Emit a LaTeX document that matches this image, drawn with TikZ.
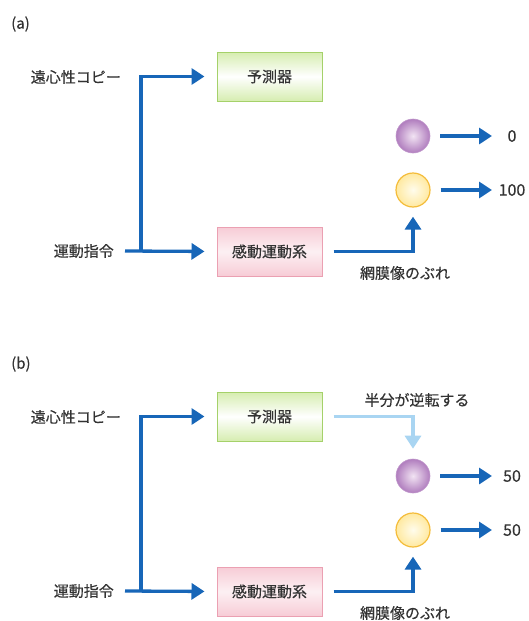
\documentclass[tikz,border=0pt]{standalone}
\usepackage{fontspec}
\setmainfont[FakeBold=0.4,AutoFakeBold=0.4]{Noto Sans CJK JP}
\usetikzlibrary{arrows.meta,calc}
\definecolor{arrowblue}{HTML}{1766B8}
\definecolor{lightblue}{HTML}{A9D5F2}
\definecolor{txt}{HTML}{333333}
\definecolor{grnedge}{HTML}{A5D16A}
\definecolor{grnfill}{HTML}{D6EDB0}
\definecolor{pnkedge}{HTML}{EBA0B2}
\definecolor{pnkfill}{HTML}{F7CCD6}
\definecolor{purpedge}{HTML}{B07DBE}
\definecolor{purpin}{HTML}{F2E4F3}
\definecolor{yeledge}{HTML}{F4BC3A}
\definecolor{yelin}{HTML}{FFFCEC}
\definecolor{yelout}{HTML}{FFE9A0}
\tikzset{
  lbl/.style={text=txt,font=\fontsize{15}{18}\selectfont\bfseries,inner sep=0pt},
  num/.style={text=txt,font=\fontsize{16}{18}\selectfont\bfseries,inner sep=0pt},
  greenbox/.style={draw=grnedge,line width=1pt,minimum width=105pt,minimum height=49pt,
    top color=grnfill,bottom color=grnfill,middle color=white,text=txt,
    font=\fontsize{15}{18}\selectfont\bfseries},
  pinkbox/.style={draw=pnkedge,line width=1pt,minimum width=105pt,minimum height=49pt,
    top color=pnkfill,bottom color=pnkfill,middle color=white!70!pnkfill,text=txt,
    font=\fontsize{15}{18}\selectfont\bfseries},
  purpball/.style={circle,minimum size=34pt,inner sep=0pt,draw=purpedge!80,line width=0.6pt,
    inner color=purpin,outer color=purpedge},
  yelball/.style={circle,minimum size=34pt,inner sep=0pt,draw=yeledge,line width=1.2pt,
    inner color=yelin,outer color=yelout},
  flow/.style={draw=arrowblue,line width=3.3pt,-{Triangle[length=13pt,width=16pt]}},
  flowlight/.style={draw=lightblue,line width=3.3pt,-{Triangle[length=13pt,width=16pt]}},
}
\begin{document}
\begin{tikzpicture}[x=1pt,y=-1pt]
\useasboundingbox (0,0) rectangle (528,621);
\foreach \oy/\tag in {0/a,340/b}{
  \begin{scope}[yshift=-\oy pt]
  \node[lbl,anchor=west] (tag\tag) at (11,24) {(\tag)};
  \node[lbl,anchor=east] (efc\tag) at (121,77) {遠心性コピー};
  \node[lbl,anchor=east] (cmd\tag) at (114,251) {運動指令};
  \node[greenbox] (pred\tag) at (269.5,76.5) {予測器};
  \node[pinkbox] (sens\tag) at (269.5,251.5) {感動運動系};
  \node[purpball] (pb\tag) at (413,136) {};
  \node[yelball] (yb\tag) at (413,190) {};
  \node[lbl] (blur\tag) at (405,273) {網膜像のぶれ};
  \coordinate (cs\tag) at ($(cmd\tag.east)+(11,0)$);
  \coordinate (j\tag) at (141,251);
  \draw[flow,shorten >=12pt] (cs\tag) -- (sens\tag.west);
  \draw[flow,shorten >=12pt] (j\tag) |- (pred\tag.west);
  \draw[flow,shorten >=9pt] ($(sens\tag.east)+(11,0)$) -| (yb\tag.south);
  \coordinate (pa\tag) at (492,136);
  \coordinate (ya\tag) at (492,190);
  \draw[flow] ($(pb\tag.east)+(10,0)$) -- (pa\tag);
  \draw[flow] ($(yb\tag.east)+(10,0)$) -- (ya\tag);
  \end{scope}
}
\node[num] (pv0) at (512,136) {0};
\node[num] (yv0) at (512,190) {100};
\node[num] (pv1) at (512,476) {50};
\node[num] (yv1) at (512,530) {50};
\node[lbl] (half) at (417,400) {半分が逆転する};
\draw[flowlight,shorten >=10pt] ($(predb.east)+(11,0)$) -| (pbb.north);
\end{tikzpicture}
\end{document}
